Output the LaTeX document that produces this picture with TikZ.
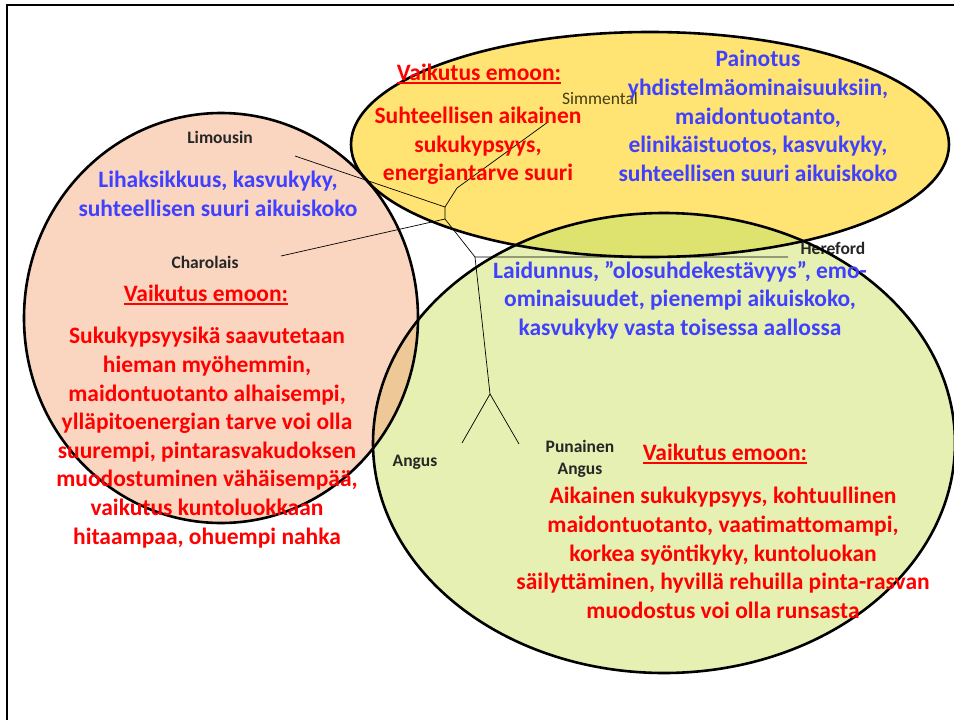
\documentclass[tikz,border=0pt]{standalone}
\usepackage{fontspec}
\setmainfont{Carlito}
\definecolor{salmon}{RGB}{250,214,192}
\definecolor{yell}{RGB}{255,228,115}
\definecolor{grn}{RGB}{230,240,178}
\definecolor{sg}{RGB}{238,200,150}
\definecolor{yg}{RGB}{222,226,110}
\definecolor{sy}{RGB}{250,205,140}
\definecolor{txtred}{RGB}{255,0,0}
\definecolor{txtblue}{RGB}{64,64,255}
\definecolor{olive}{RGB}{70,60,20}
\tikzset{
  outline/.style={draw=black, line width=2.6pt},
  branch/.style={draw=black, line width=0.7pt},
  breed/.style={font=\fontsize{17.5}{22}\selectfont\bfseries, text=black!85, align=center, inner sep=0pt},
  bigtext/.style={font=\fontsize{23.5}{28.6}\selectfont\bfseries, align=center, inner sep=0pt},
  redtext/.style={bigtext, text=txtred},
  bluetext/.style={bigtext, text=txtblue},
  uline/.style={draw=txtred, line width=1.6pt}
}
\begin{document}
\begin{tikzpicture}[x=1pt,y=-1pt]
\useasboundingbox (0,0) rectangle (954,720);
\fill[white] (0,0) rectangle (954,720);
% fills
\fill[salmon] (221,318) ellipse [x radius=197pt, y radius=205pt];
\fill[yell] (650,144.5) ellipse [x radius=299pt, y radius=112.5pt];
\fill[grn] (664,443) ellipse [x radius=291pt, y radius=230pt];
% overlaps
\begin{scope}
  \clip (221,318) ellipse [x radius=197pt, y radius=205pt];
  \fill[sg] (664,443) ellipse [x radius=291pt, y radius=230pt];
  \fill[sy] (650,144.5) ellipse [x radius=299pt, y radius=112.5pt];
\end{scope}
\begin{scope}
  \clip (650,144.5) ellipse [x radius=299pt, y radius=112.5pt];
  \fill[yg] (664,443) ellipse [x radius=291pt, y radius=230pt];
\end{scope}
% tree
\coordinate (L) at (295,156);
\coordinate (J1) at (445,207);
\coordinate (S1) at (457,188);
\coordinate (S) at (548,122);
\coordinate (J2) at (445,219);
\coordinate (C) at (281,256);
\coordinate (J3) at (475,257);
\coordinate (H) at (788,257);
\coordinate (J4) at (490,394);
\coordinate (A) at (462,443);
\coordinate (P) at (519,444);
\draw[branch] (L) -- (J1) -- (S1) -- (S);
\draw[branch] (J1) -- (J2) -- (C);
\draw[branch] (J2) -- (J3) -- (H);
\draw[branch] (J3) -- (J4) -- (A);
\draw[branch] (J4) -- (P);
% breed labels
\node[breed] (lim) at (220,137) {Limousin};
\node[breed] (cha) at (205,262) {Charolais};
\node[breed, text=olive, font=\fontsize{17.5}{22}\selectfont] (sim) at (600,98) {Simmental};
\node[breed] (her) at (833,248) {Hereford};
\node[breed] (ang) at (415,462) {Angus};
\node[breed] (pang) at (580,459) {Punainen\\Angus};
% outlines
\draw[outline] (221,318) ellipse [x radius=197pt, y radius=205pt];
\draw[outline] (650,144.5) ellipse [x radius=299pt, y radius=112.5pt];
\draw[outline] (664,443) ellipse [x radius=291pt, y radius=230pt];
% frame
\draw[line width=2.6pt] (7,722) -- (7,5) -- (956,5);
% texts
\node[bluetext] (lb) at (218,194) {Lihaksikkuus, kasvukyky,\\suhteellisen suuri aikuiskoko};
\node[redtext] (lh) at (206,293) {Vaikutus emoon:};
\draw[uline] ([yshift=-3pt]lh.base west) -- ([yshift=-3pt]lh.base east);
\node[redtext] (lr) at (207,437.5) {Sukukypsyysikä saavutetaan\\hieman myöhemmin,\\maidontuotanto alhaisempi,\\ylläpitoenergian tarve voi olla\\suurempi, pintarasvakudoksen\\muodostuminen vähäisempää,\\vaikutus kuntoluokkaan\\hitaampaa, ohuempi nahka};
\node[redtext] (yh) at (479,72) {Vaikutus emoon:};
\draw[uline] ([yshift=-3pt]yh.base west) -- ([yshift=-3pt]yh.base east);
\node[redtext] (yr) at (478,146) {Suhteellisen aikainen\\sukukypsyys,\\energiantarve suuri};
\node[bluetext] (yb) at (758,116) {Painotus\\yhdistelmäominaisuuksiin,\\maidontuotanto,\\elinikäistuotos, kasvukyky,\\suhteellisen suuri aikuiskoko};
\node[bluetext] (gb) at (680,300) {Laidunnus, ”olosuhdekestävyys”, emo-\\ominaisuudet, pienempi aikuiskoko,\\kasvukyky vasta toisessa aallossa};
\node[redtext] (gh) at (725,452) {Vaikutus emoon:};
\draw[uline] ([yshift=-3pt]gh.base west) -- ([yshift=-3pt]gh.base east);
\node[redtext] (gr) at (723,553) {Aikainen sukukypsyys, kohtuullinen\\maidontuotanto, vaatimattomampi,\\korkea syöntikyky, kuntoluokan\\säilyttäminen, hyvillä rehuilla pinta-rasvan\\muodostus voi olla runsasta};
\end{tikzpicture}
\end{document}
